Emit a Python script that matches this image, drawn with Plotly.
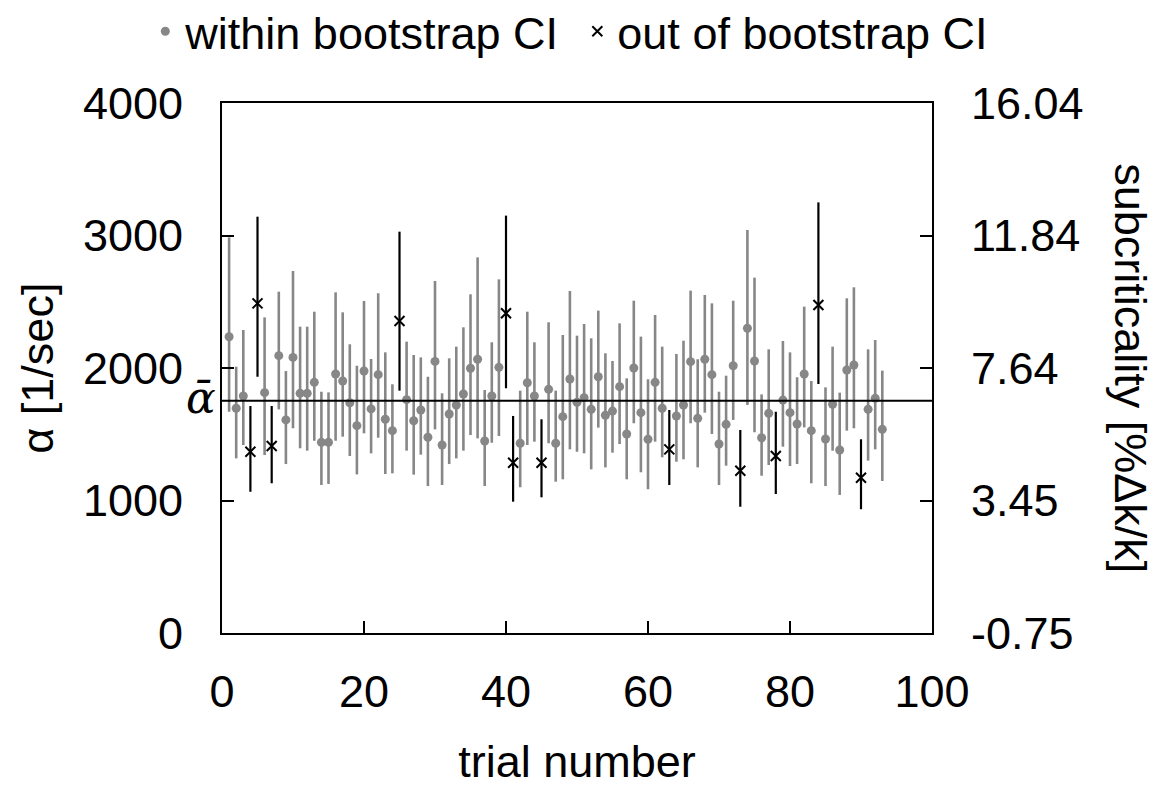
import plotly.graph_objects as go

# ---- data ----
trials = list(range(1, 94))
alpha = [2236, 1696, 1789, 1368, 2488, 1814, 1411, 2093, 1608, 2080,
         1809, 1809, 1892, 1439, 1439, 1955, 1902, 1738, 1565, 1977,
         1691, 1950, 1613, 1527, 2355, 1761, 1602, 1683, 1477, 2050,
         1419, 1653, 1721, 1804, 1998, 2066, 1449, 1789, 2005, 2413,
         1285, 1432, 1889, 1789, 1285, 1839, 1432, 1633, 1917, 1741,
         1776, 1688, 1934, 1643, 1675, 1859, 1502, 2000, 1663, 1462,
         1892, 1696, 1386, 1638, 1721, 2048, 1620, 2066, 1950, 1426,
         1575, 2017, 1225, 2300, 2053, 1474, 1658, 1336, 1758, 1663,
         1577, 1955, 1527, 2475, 1464, 1726, 1381, 1985, 2023, 1172,
         1688, 1771, 1537]
ci_upper = [2986, 2010, 2287, 1713, 3142, 2382, 1713, 2576, 1977, 2732,
            2312, 2312, 2425, 1821, 1816, 2571, 2420, 2179, 2017, 2506,
            2068, 2564, 2118, 1877, 3029, 2199, 2098, 2080, 1934, 2657,
            1809, 2073, 2161, 2307, 2556, 2835, 1834, 2194, 2669, 3150,
            1638, 1829, 2425, 2194, 1613, 2345, 1829, 2249, 2581, 2244,
            2332, 2224, 2433, 2111, 2053, 2337, 1922, 2508, 2237, 1915,
            2400, 2161, 1683, 2106, 2206, 2584, 2066, 2551, 2488, 1821,
            1942, 2508, 1532, 3042, 2682, 1801, 2141, 1670, 2204, 2118,
            1930, 2463, 1902, 3250, 1854, 2161, 1814, 2526, 2609, 1462,
            2141, 2211, 1980]
ci_lower = [1670, 1318, 1419, 1066, 1934, 1343, 1130, 1688, 1275, 1545,
            1394, 1376, 1451, 1117, 1125, 1451, 1482, 1336, 1197, 1507,
            1356, 1474, 1200, 1205, 1829, 1376, 1195, 1346, 1109, 1537,
            1117, 1275, 1318, 1376, 1494, 1469, 1109, 1436, 1487, 1847,
            991, 1100, 1419, 1444, 1024, 1432, 1142, 1160, 1386, 1368,
            1356, 1235, 1550, 1250, 1361, 1426, 1160, 1583, 1213, 1085,
            1444, 1326, 1117, 1293, 1311, 1583, 1250, 1663, 1502, 1117,
            1263, 1608, 953, 1721, 1515, 1187, 1268, 1049, 1406, 1260,
            1275, 1552, 1130, 1879, 1109, 1376, 1042, 1527, 1545, 934,
            1301, 1386, 1147]
out_of_ci = [4, 5, 7, 25, 40, 41, 45, 63, 73, 78, 84, 90]
mean_alpha = 1753

x_ticks = [0, 20, 40, 60, 80, 100]
y_ticks = [0, 1000, 2000, 3000, 4000]
sub_labels = ["-0.75", "3.45", "7.64", "11.84", "16.04"]

# ---- split series ----
def subset(keep):
    xs, ys, up, lo = [], [], [], []
    for t, a, u, l in zip(trials, alpha, ci_upper, ci_lower):
        if keep(t):
            xs.append(t); ys.append(a); up.append(u - a); lo.append(a - l)
    return xs, ys, up, lo

xi, yi, ui, li = subset(lambda t: t not in out_of_ci)
xo, yo, uo, lo_ = subset(lambda t: t in out_of_ci)

FONT = "Liberation Sans, Arial, sans-serif"
GRAY = "#878787"

fig = go.Figure()
fig.add_trace(go.Scatter(
    x=xi, y=yi, mode="markers", name="within bootstrap CI",
    marker=dict(color=GRAY, size=9, symbol="circle"),
    error_y=dict(type="data", array=ui, arrayminus=li, width=0,
                 thickness=2.6, color=GRAY),
))
fig.add_trace(go.Scatter(
    x=xo, y=yo, mode="markers", name="out of bootstrap CI",
    marker=dict(color="black", size=10, symbol="x-thin",
                line=dict(color="black", width=2)),
    error_y=dict(type="data", array=uo, arrayminus=lo_, width=0,
                 thickness=2.2, color="black"),
))
fig.add_trace(go.Scatter(
    x=[x_ticks[0], x_ticks[-1]], y=[mean_alpha, mean_alpha], mode="lines",
    line=dict(color="black", width=2.2), showlegend=False, hoverinfo="skip",
))
# invisible trace to anchor the right axis
fig.add_trace(go.Scatter(x=[x_ticks[0]], y=[y_ticks[0]], yaxis="y2",
                         mode="markers", marker=dict(opacity=0),
                         showlegend=False, hoverinfo="skip"))

axis_common = dict(showgrid=False, zeroline=False, showline=True,
                   linecolor="black", linewidth=2, ticks="inside",
                   ticklen=12, tickwidth=1.5, tickcolor="black",
                   tickfont=dict(family=FONT, size=45, color="black"))

# page body adds an ~8px offset, so the figure is 8px smaller
fig.update_layout(
    width=1151, height=779,
    margin=dict(l=214, r=227, t=95, b=154, autoexpand=False),
    paper_bgcolor="white", plot_bgcolor="white",
    font=dict(family=FONT, size=45, color="black"),
    showlegend=True,
    legend=dict(orientation="h", xref="paper", x=-0.108, xanchor="left",
                yref="paper", y=1.135, yanchor="middle",
                font=dict(family=FONT, size=45, color="black"),
                entrywidth=387, entrywidthmode="pixels",
                itemwidth=30, tracegroupgap=0, bgcolor="rgba(0,0,0,0)"),
    xaxis=dict(range=[0, 100], tickvals=x_ticks, mirror=True,
               ticklabelstandoff=18,
               title=dict(text="trial number", standoff=40,
                          font=dict(family=FONT, size=45)),
               **axis_common),
    yaxis=dict(range=[0, 4000], tickvals=y_ticks, ticklabelstandoff=28,
               **axis_common),
    yaxis2=dict(range=[0, 4000], tickvals=y_ticks, ticktext=sub_labels,
                overlaying="y", side="right", ticklabelstandoff=28,
                **axis_common),
)

# axis titles as annotations (right title reads top to bottom)
fig.add_annotation(text="α [1/sec]", xref="paper", yref="paper",
                   x=-0.261, y=0.5, textangle=-90, showarrow=False,
                   xanchor="center", yanchor="middle",
                   font=dict(family=FONT, size=45, color="black"))
fig.add_annotation(text="subcriticality [%Δk/k]", xref="paper", yref="paper",
                   x=1.28, y=0.5, textangle=90, showarrow=False,
                   xanchor="center", yanchor="middle",
                   font=dict(family=FONT, size=45, color="black"))
# mean label
fig.add_annotation(text="<i>\u1fb1</i>", xref="paper", yref="y",
                   x=-0.005, y=mean_alpha, xanchor="right", yanchor="middle",
                   showarrow=False, yshift=3,
                   font=dict(family="DejaVu Serif, serif", size=44,
                             color="black"))

fig.write_html("out.html")
